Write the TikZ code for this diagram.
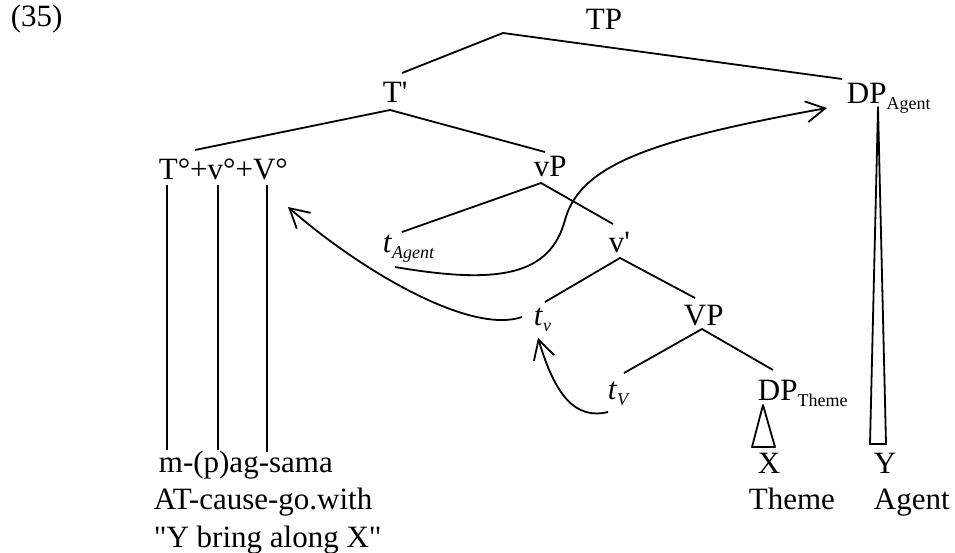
\documentclass[tikz,border=0pt]{standalone}
\usepackage{fontspec}
\newfontfamily\tms{Liberation Serif}
\usetikzlibrary{arrows.meta}
\newcommand\mysub[1]{\raisebox{-6pt}{\fontsize{18}{18}\selectfont #1}}
\begin{document}
\begin{tikzpicture}[x=1pt,y=-1pt, line width=1.8pt, line join=round,
  lbl/.style={anchor=base west, inner sep=0pt, font=\tms\fontsize{31}{37}\selectfont},
  br/.style={line width=1.8pt},
  mv/.style={line width=1.8pt, -{Straight Barb[length=19pt,width=21pt,line width=1.8pt]}}]
\useasboundingbox (0,0) rectangle (955,553);
% labels
\node[lbl] (ex) at (10,27) {(35)};
\node[lbl] (TP) at (585,30) {TP};
\node[lbl] (Tbar) at (382,103) {T'};
\node[lbl] (DPA) at (846,104) {DP\mysub{Agent}};
\node[lbl] (T0) at (158,180) {T°+v°+V°};
\node[lbl] (vP) at (533,177) {vP};
\node[lbl] (tA) at (382,252) {\textit{t}\mysub{\textit{Agent}}};
\node[lbl] (vbar) at (608,252) {v'};
\node[lbl] (tv) at (533,325) {\textit{t}\mysub{\textit{v}}};
\node[lbl] (VP) at (683,325) {VP};
\node[lbl] (tV) at (607,399) {\textit{t}\mysub{\textit{V}}};
\node[lbl] (DPT) at (757,400) {DP\mysub{Theme}};
\node[lbl] (word) at (158,472) {m-(p)ag-sama};
\node[lbl] (gloss) at (153,509) {AT-cause-go.with};
\node[lbl] (trans) at (153,547) {"Y bring along X"};
\node[lbl] (X) at (757,473) {X};
\node[lbl] (Y) at (873,473) {Y};
\node[lbl] (Theme) at (748,509) {Theme};
\node[lbl] (Agent) at (873,509) {Agent};
% branch points
\coordinate (TPb) at (503,33);
\coordinate (Tbart) at (402,73);
\coordinate (DPAt) at (842,79);
\coordinate (Tbarb) at (390,110);
\coordinate (T0t) at (195,150);
\coordinate (vPt) at (545,152);
\coordinate (vPb) at (541,183);
\coordinate (tAt) at (402,232);
\coordinate (vbart) at (613,224);
\coordinate (vbarb) at (620,258);
\coordinate (tvt) at (545,302);
\coordinate (VPt) at (695,298);
\coordinate (VPb) at (702,329);
\coordinate (tVt) at (624,373);
\coordinate (DPTt) at (773,370);
% tree branches
\draw[br] (Tbart) -- (TPb) -- (DPAt);
\draw[br] (T0t) -- (Tbarb) -- (vPt);
\draw[br] (tAt) -- (vPb) -- (vbart);
\draw[br] (tvt) -- (vbarb) -- (VPt);
\draw[br] (tVt) -- (VPb) -- (DPTt);
% head lines
\coordinate (h1t) at (167,185); \coordinate (h1b) at (167,450);
\coordinate (h2t) at (218,185); \coordinate (h2b) at (218,450);
\coordinate (h3t) at (267,185); \coordinate (h3b) at (267,452);
\draw[br] (h1t) -- (h1b);
\draw[br] (h2t) -- (h2b);
\draw[br] (h3t) -- (h3b);
% triangles
\coordinate (triTa) at (763,405); \coordinate (triTl) at (752,447); \coordinate (triTr) at (775,447);
\draw[br] (triTa) -- (triTl) -- (triTr) -- cycle;
\coordinate (triAa) at (878,107); \coordinate (triAl) at (870,444); \coordinate (triAr) at (886,444);
\draw[br] (triAa) -- (triAl) -- (triAr) -- cycle;
% movement arrows
\coordinate (m1s) at (395,267);
\coordinate (m1m) at (565,220);
\coordinate (m1e) at (827,108);
\draw[mv] (m1s) .. controls (500,285) and (550,275) .. (m1m)
  .. controls (580,165) and (650,140) .. (m1e);
\coordinate (m2s) at (522,317);
\coordinate (m2e) at (288,207);
\draw[mv] (m2s) .. controls (470,335) and (360,270) .. (m2e);
\coordinate (m3s) at (608,412);
\coordinate (m3e) at (538,338);
\draw[mv] (m3s) .. controls (575,420) and (555,395) .. (m3e);
\end{tikzpicture}
\end{document}
